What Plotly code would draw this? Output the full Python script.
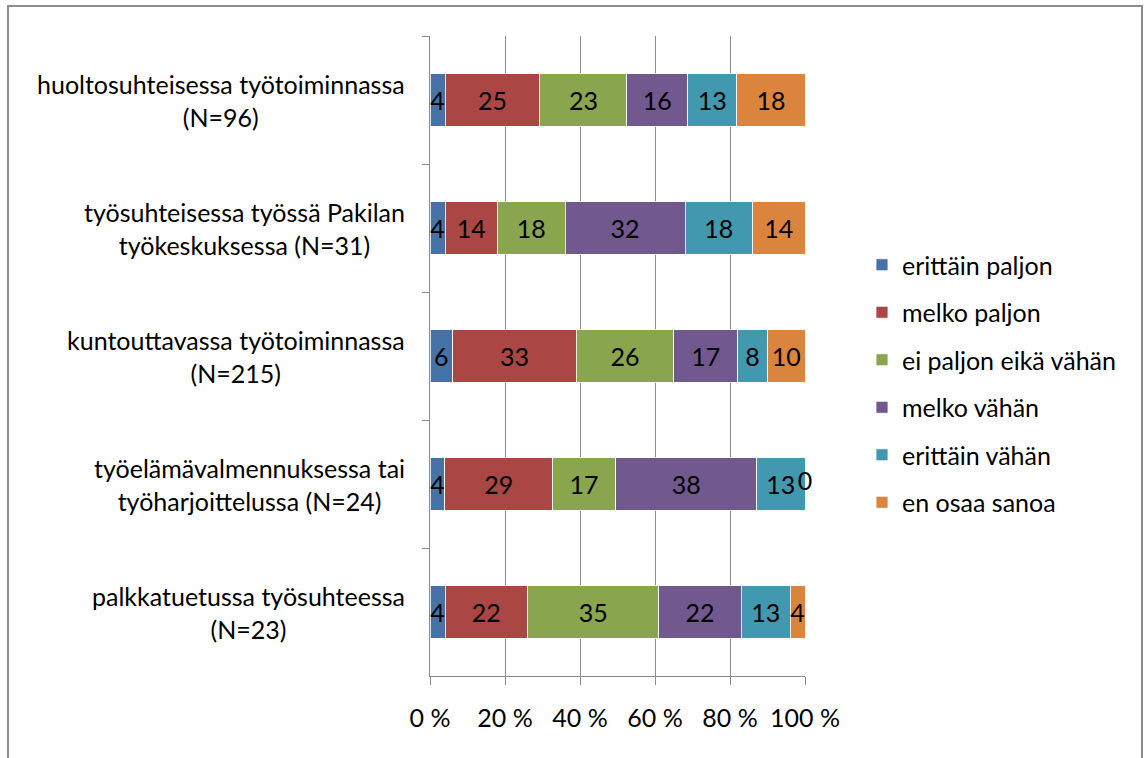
import plotly.graph_objects as go

# --- dati
categories = [
    "huoltosuhteisessa työtoiminnassa<br>(N=96)",
    "työsuhteisessa työssä Pakilan<br>työkeskuksessa (N=31)",
    "kuntouttavassa työtoiminnassa<br>(N=215)",
    "työelämävalmennuksessa tai<br>työharjoittelussa (N=24)",
    "palkkatuetussa työsuhteessa<br>(N=23)",
]
series_names = ["erittäin paljon", "melko paljon", "ei paljon eikä vähän",
                "melko vähän", "erittäin vähän", "en osaa sanoa"]
erittain_paljon = [4, 4, 6, 4, 4]
melko_paljon = [25, 14, 33, 29, 22]
ei_paljon_eika_vahan = [23, 18, 26, 17, 35]
melko_vahan = [16, 32, 17, 38, 22]
erittain_vahan = [13, 18, 8, 13, 13]
en_osaa_sanoa = [18, 14, 10, 0, 4]
x_ticks = [0, 20, 40, 60, 80, 100]
x_ticktext = ["0 %", "20 %", "40 %", "60 %", "80 %", "100 %"]

series_values = [erittain_paljon, melko_paljon, ei_paljon_eika_vahan,
                 melko_vahan, erittain_vahan, en_osaa_sanoa]
colors = ["#4572A7", "#AA4643", "#89A54E", "#71588F", "#4198AF", "#DB843D"]

FONT = "Lato, Calibri, sans-serif"
FS = 25
W, H = 1144, 758
L, R, T, B = 430, 339, 36, 82
pw, ph = W - L - R, H - T - B

totals = [sum(v) for v in zip(*series_values)]

fig = go.Figure()
for i, (name, vals) in enumerate(zip(series_names, series_values)):
    fig.add_trace(go.Bar(
        y=categories, x=vals, name=name, orientation="h",
        marker=dict(color=colors[i], line=dict(color="rgba(255,255,255,0.8)", width=1)),
        text=[str(v) if v else "" for v in vals],
        textposition="inside", insidetextanchor="middle",
        textfont=dict(color="black", size=FS, family=FONT),
        constraintext="none", cliponaxis=False,
        legendgroup=name,
    ))

# etichette per i valori zero (barra invisibile): testo sul bordo della barra
zx, zy, zt = [], [], []
for j, c in enumerate(categories):
    cum = 0
    for vals in series_values:
        cum += vals[j]
        if vals[j] == 0:
            zx.append(cum / totals[j] * 100)
            zy.append(c)
            zt.append("0")
fig.add_trace(go.Scatter(x=zx, y=zy, text=zt, mode="text", textposition="middle center",
                         textfont=dict(color="black", size=FS, family=FONT),
                         showlegend=False, cliponaxis=False, hoverinfo="skip"))

# etichette categorie centrate (come Excel)
for c in categories:
    fig.add_annotation(x=0, xref="paper", y=c, yref="y", text=c, showarrow=False,
                       xanchor="right", align="center", xshift=-23,
                       font=dict(size=FS, family=FONT, color="black"))

# cornice
fig.add_shape(type="rect", xref="paper", yref="paper",
              x0=(8 - L) / pw, x1=(1142 - L) / pw,
              y0=-(H + 10 - (H - B)) / ph, y1=1 + (T - 6) / ph,
              line=dict(color="#8c8c8c", width=2), layer="below")

fig.update_layout(
    width=W, height=H, barmode="stack", barnorm="percent", bargap=0.59,
    margin=dict(l=L, r=R, t=T, b=B),
    plot_bgcolor="white", paper_bgcolor="white",
    font=dict(family=FONT, size=FS, color="black"),
    showlegend=True,
    legend=dict(x=(862 - L) / pw, y=(H - B - 242) / ph, xanchor="left", yanchor="top",
                traceorder="grouped", tracegroupgap=12,
                font=dict(size=FS, family=FONT), itemwidth=30),
    xaxis=dict(range=[0, 100.0001], tickvals=x_ticks, ticktext=x_ticktext,
               showgrid=True, gridcolor="#8c8c8c", gridwidth=1,
               showline=True, linecolor="#8c8c8c", linewidth=1,
               ticks="outside", ticklen=8, tickcolor="#8c8c8c",
               ticklabelstandoff=12, zeroline=False,
               tickfont=dict(size=FS, family=FONT)),
    yaxis=dict(autorange="reversed", showticklabels=False,
               showline=True, linecolor="#8c8c8c", linewidth=1,
               ticks="outside", ticklen=7, tickcolor="#8c8c8c",
               tickson="boundaries", showgrid=False),
)

fig.write_html("out.html", config={"displayModeBar": False},
               post_script="document.body.style.margin='0';")
